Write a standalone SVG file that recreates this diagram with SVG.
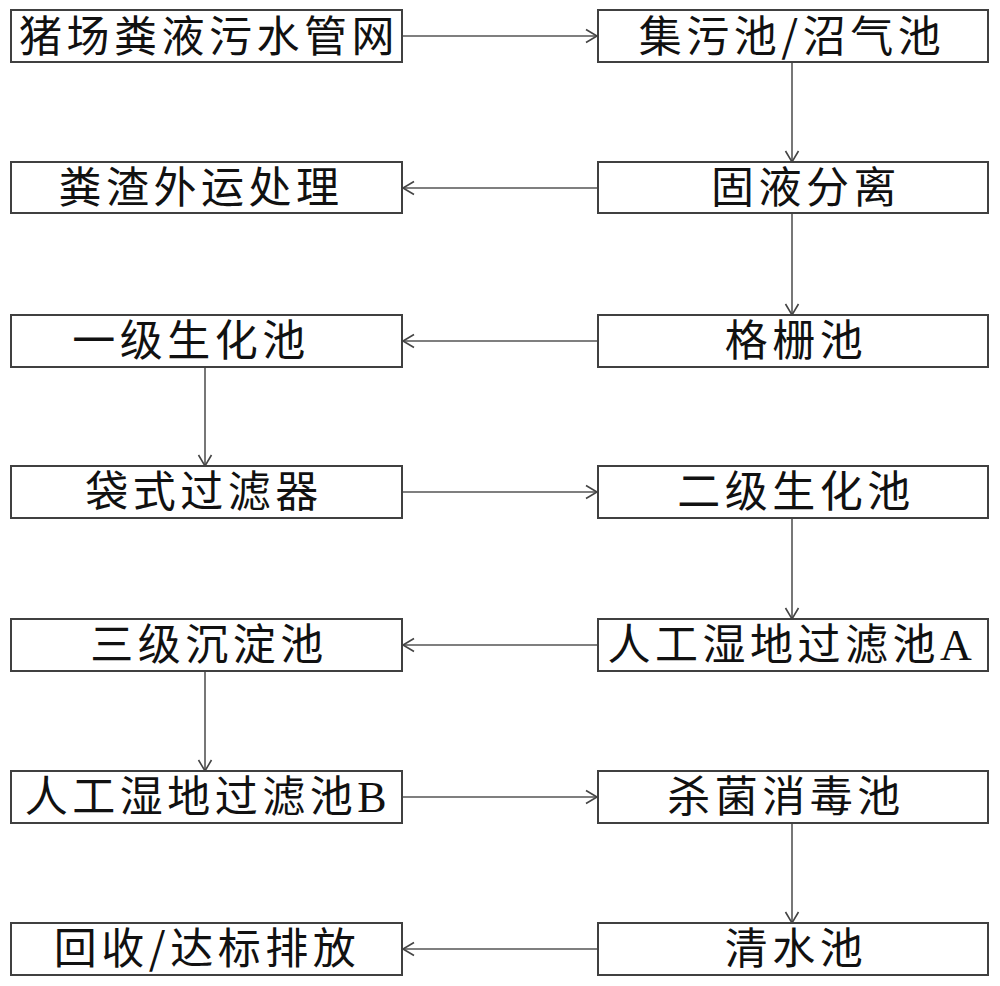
<svg xmlns="http://www.w3.org/2000/svg" width="1000" height="986" viewBox="0 0 1000 986">
<style>
.box{fill:#fff;stroke:#404040;stroke-width:2}
.t{font-family:"Noto Sans CJK SC","Liberation Serif",sans-serif;font-size:43px;fill:#111;text-anchor:middle;letter-spacing:4.5px}
.s{font-family:"Liberation Serif",serif;font-size:44px}
.c{fill:none;stroke:#555;stroke-width:1.6}
</style>
<defs>
<marker id="ah" markerUnits="userSpaceOnUse" markerWidth="16" markerHeight="16" refX="12" refY="8" orient="auto">
<path d="M1,1.5 L12,8 L1,14.5" fill="none" stroke="#444" stroke-width="1.6"/>
</marker>
</defs>
<rect width="1000" height="986" fill="#fff"/>
<g id="connectors">
<line class="c" x1="402" y1="36" x2="597" y2="36" marker-end="url(#ah)"/>
<line class="c" x1="792" y1="62" x2="792" y2="162" marker-end="url(#ah)"/>
<line class="c" x1="597" y1="188" x2="403" y2="188" marker-end="url(#ah)"/>
<line class="c" x1="792" y1="213" x2="792" y2="315" marker-end="url(#ah)"/>
<line class="c" x1="597" y1="341" x2="403" y2="341" marker-end="url(#ah)"/>
<line class="c" x1="205" y1="367" x2="205" y2="466" marker-end="url(#ah)"/>
<line class="c" x1="402" y1="492" x2="597" y2="492" marker-end="url(#ah)"/>
<line class="c" x1="792" y1="518" x2="792" y2="619" marker-end="url(#ah)"/>
<line class="c" x1="597" y1="645" x2="403" y2="645" marker-end="url(#ah)"/>
<line class="c" x1="205" y1="671" x2="205" y2="771" marker-end="url(#ah)"/>
<line class="c" x1="402" y1="797" x2="597" y2="797" marker-end="url(#ah)"/>
<line class="c" x1="792" y1="823" x2="792" y2="923" marker-end="url(#ah)"/>
<line class="c" x1="597" y1="949" x2="403" y2="949" marker-end="url(#ah)"/>
</g>
<g id="n1"><rect class="box" x="11" y="10" width="391" height="52"/><text class="t" x="209" y="52">猪场粪液污水管网</text></g>
<g id="n2"><rect class="box" x="598" y="10" width="390" height="52"/><text class="t" x="792" y="52">集污池/沼气池</text></g>
<g id="n3"><rect class="box" x="598" y="162" width="390" height="51"/><text class="t" x="806" y="203">固液分离</text></g>
<g id="n4"><rect class="box" x="11" y="162" width="391" height="51"/><text class="t" x="201" y="203">粪渣外运处理</text></g>
<g id="n5"><rect class="box" x="598" y="315" width="390" height="52"/><text class="t" x="796" y="356">格栅池</text></g>
<g id="n6"><rect class="box" x="11" y="315" width="391" height="52"/><text class="t" x="191" y="356">一级生化池</text></g>
<g id="n7"><rect class="box" x="11" y="466" width="391" height="52"/><text class="t" x="204" y="507">袋式过滤器</text></g>
<g id="n8"><rect class="box" x="598" y="466" width="390" height="52"/><text class="t" x="796" y="507">二级生化池</text></g>
<g id="n9"><rect class="box" x="598" y="619" width="390" height="52"/><text class="t" x="792" y="660">人工湿地过滤池<tspan class="s">A</tspan></text></g>
<g id="n10"><rect class="box" x="11" y="619" width="391" height="52"/><text class="t" x="209" y="660">三级沉淀池</text></g>
<g id="n11"><rect class="box" x="11" y="771" width="391" height="52"/><text class="t" x="208" y="812">人工湿地过滤池<tspan class="s">B</tspan></text></g>
<g id="n12"><rect class="box" x="598" y="771" width="390" height="52"/><text class="t" x="786" y="812">杀菌消毒池</text></g>
<g id="n13"><rect class="box" x="598" y="923" width="390" height="52"/><text class="t" x="796" y="964">清水池</text></g>
<g id="n14"><rect class="box" x="11" y="923" width="391" height="52"/><text class="t" x="207" y="964">回收/达标排放</text></g>
</svg>
